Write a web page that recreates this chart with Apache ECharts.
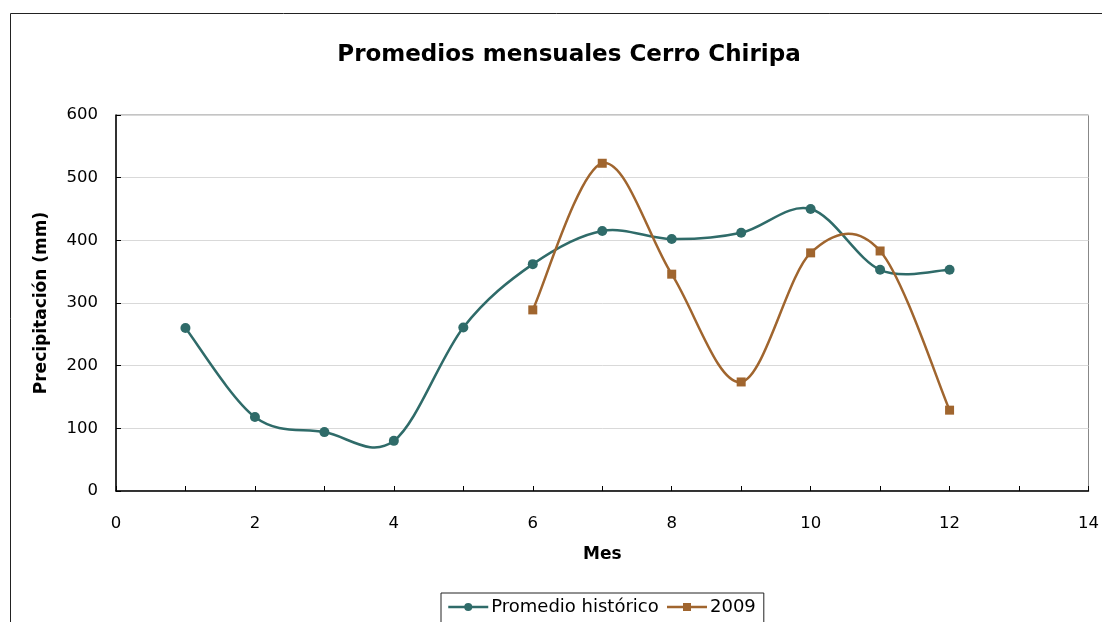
<!DOCTYPE html>
<html>
<head>
<meta charset="utf-8">
<script src="https://cdn.jsdelivr.net/npm/echarts@6/dist/echarts.min.js"></script>
<style>
    html, body { margin: 0; padding: 0; background: #fff; }
    #chart { width: 1102px; height: 622px; }
</style>
</head>
<body>
<div id="chart"></div>
<script>
// valores
const meses = [1, 2, 3, 4, 5, 6, 7, 8, 9, 10, 11, 12]
const historico = [260, 118, 94, 80, 261, 362, 415, 402, 412, 450, 353, 353]
const meses2009 = [6, 7, 8, 9, 10, 11, 12]
const valores2009 = [289, 523, 346, 174, 380, 383, 129]

const font = '"DejaVu Sans", sans-serif'
const colorHist = '#2f6b69'
const color2009 = '#a0652e'

const datosHist = meses.map((m, i) => [m, historico[i]])
const datos2009 = meses2009.map((m, i) => [m, valores2009[i]])

// curva suavizada tipo Excel (Catmull-Rom) entre puntos consecutivos
function curva (datos, color) {
    return function (params, api) {
        const i = params.dataIndex
        const n = datos.length
        if (i >= n - 1) return null
        const p = (k) => api.coord(datos[Math.max(0, Math.min(n - 1, k))])
        const p0 = p(i - 1), p1 = p(i), p2 = p(i + 1), p3 = p(i + 2)
        return {
            type: 'bezierCurve',
            shape: {
                x1: p1[0], y1: p1[1],
                x2: p2[0], y2: p2[1],
                cpx1: p1[0] + (p2[0] - p0[0]) / 6,
                cpy1: p1[1] + (p2[1] - p0[1]) / 6,
                cpx2: p2[0] - (p3[0] - p1[0]) / 6,
                cpy2: p2[1] - (p3[1] - p1[1]) / 6
            },
            style: { stroke: color, lineWidth: 2.5, fill: null },
            silent: true
        }
    }
}

const myChart = echarts.init(document.getElementById('chart'))
const option = {
    animation: false,
    textStyle: { fontFamily: font },
    title: {
        text: 'Promedios mensuales Cerro Chiripa',
        left: 564,
        top: 39,
        textAlign: 'center',
        textStyle: { fontSize: 23, fontWeight: 'bold', color: '#000', fontFamily: font }
    },
    graphic: [
        {
            type: 'rect',
            shape: { x: 10.5, y: 13.5, width: 1200, height: 800 },
            style: { fill: 'none', stroke: '#222', lineWidth: 1 },
            silent: true
        }
    ],
    legend: {
        left: 441,
        top: 593,
        padding: [5, 8, 12, 6],
        borderColor: '#222',
        borderWidth: 1,
        itemWidth: 40,
        itemHeight: 10,
        itemGap: 7,
        textStyle: { fontSize: 18, color: '#000', fontFamily: font, padding: [0, 0, 0, -2] },
        data: [
            { name: 'Promedio histórico', lineStyle: { opacity: 1, width: 2.5, color: colorHist } },
            { name: '2009', lineStyle: { opacity: 1, width: 2.5, color: color2009 } }
        ]
    },
    grid: {
        left: 116,
        right: 13,
        top: 115,
        bottom: 131,
        show: true,
        borderColor: '#888',
        borderWidth: 1
    },
    xAxis: {
        type: 'value',
        min: 0,
        max: 14,
        interval: 1,
        name: 'Mes',
        nameLocation: 'middle',
        nameGap: 55,
        nameTextStyle: { fontSize: 17, fontWeight: 'bold', color: '#000' },
        axisLine: { lineStyle: { color: '#000', width: 1.5 } },
        axisTick: { inside: true, length: 5, lineStyle: { color: '#000' } },
        axisLabel: {
            fontSize: 16.5,
            color: '#000',
            margin: 24,
            formatter: (v) => (v % 2 === 0 ? String(v) : '')
        },
        splitLine: { show: false }
    },
    yAxis: {
        type: 'value',
        min: 0,
        max: 600,
        interval: 100,
        name: 'Precipitación (mm)',
        nameLocation: 'middle',
        nameGap: 66,
        nameTextStyle: { fontSize: 17, fontWeight: 'bold', color: '#000' },
        axisLine: { show: true, lineStyle: { color: '#000', width: 1.5 } },
        axisTick: { show: true, inside: true, length: 5, lineStyle: { color: '#000' } },
        axisLabel: { fontSize: 16.5, color: '#000', margin: 18 },
        splitLine: { lineStyle: { color: '#d9d9d9', width: 1 } }
    },
    series: [
        {
            name: 'Promedio histórico',
            type: 'line',
            data: datosHist,
            symbol: 'circle',
            symbolSize: 10,
            z: 5,
            itemStyle: { color: colorHist },
            lineStyle: { opacity: 0 }
        },
        {
            name: '2009',
            type: 'line',
            data: datos2009,
            symbol: 'rect',
            symbolSize: 9,
            z: 6,
            itemStyle: { color: color2009 },
            lineStyle: { opacity: 0 }
        },
        {
            name: 'curva histórico',
            type: 'custom',
            data: datosHist,
            encode: { x: 0, y: 1 },
            z: 2,
            renderItem: curva(datosHist, colorHist)
        },
        {
            name: 'curva 2009',
            type: 'custom',
            data: datos2009,
            encode: { x: 0, y: 1 },
            z: 3,
            renderItem: curva(datos2009, color2009)
        }
    ]
}
myChart.setOption(option)
</script>
</body>
</html>
